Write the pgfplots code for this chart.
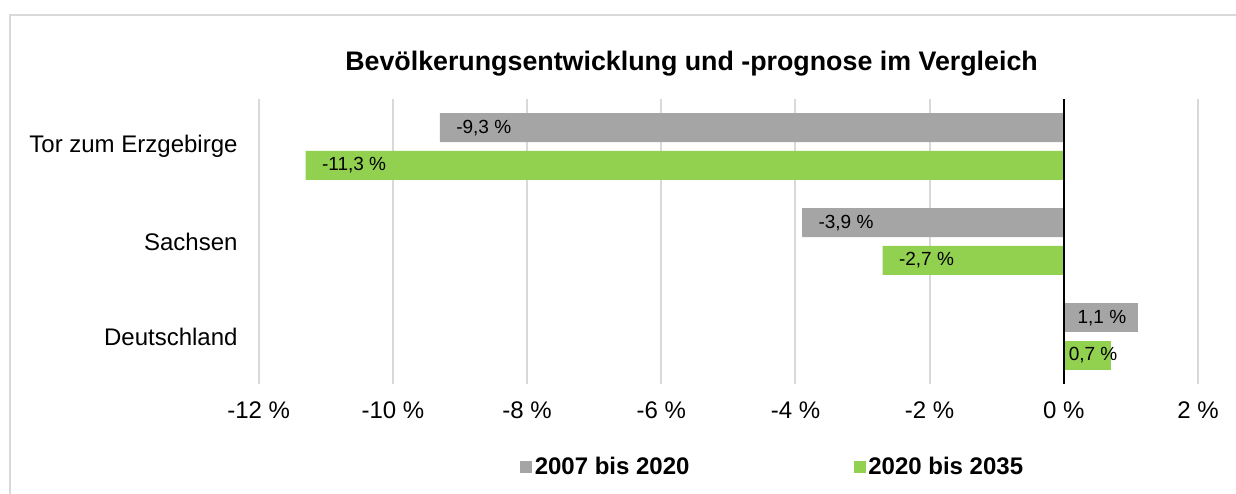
\documentclass[border=0pt]{standalone}
\usepackage{fontspec}
\setmainfont{Liberation Sans}
\usepackage{pgfplots}
\pgfplotsset{compat=1.18}
\definecolor{cgrey}{HTML}{A5A5A5}
\definecolor{cgreen}{HTML}{92D050}
\definecolor{gridc}{HTML}{D9D9D9}
\begin{document}
\begin{tikzpicture}
\path[use as bounding box] (0,0) rectangle (618pt,246.5pt);
\clip (0,0) rectangle (618pt,246.5pt);
\draw[gridc, line width=1pt] (5pt,-20pt) -- (5pt,239pt) -- (640pt,239pt);
\node[font=\bfseries\fontsize{13.4}{16}\selectfont, anchor=base] at (345.75pt,211pt) {Bevölkerungsentwicklung und -prognose im Vergleich};
\begin{axis}[
  at={(129.35pt,54.5pt)}, anchor=south west,
  scale only axis, width=469.65pt, height=142.5pt,
  xbar, bar width=14.5pt,
  xmin=-12, xmax=2, ymin=-0.5, ymax=2.5,
  xtick={-12,-10,-8,-6,-4,-2,0,2},
  xticklabels={-12 \%,-10 \%,-8 \%,-6 \%,-4 \%,-2 \%,0 \%,2 \%},
  ytick={0,1,2},
  yticklabels={Deutschland,Sachsen,Tor zum Erzgebirge},
  axis line style={draw=none}, major tick style={draw=none},
  xmajorgrids, grid style={gridc, line width=1pt},
  tick label style={font=\fontsize{12}{14}\selectfont},
  xticklabel style={yshift=-5.5pt},
  yticklabel style={xshift=-2.8pt},
  point meta=explicit symbolic,
  nodes near coords,
  every node near coord/.append style={font=\fontsize{9.5}{11}\selectfont, inner sep=0pt, text=black},
  legend columns=2,
  legend style={at={(0.5475,-0.291)}, anchor=center, draw=none,
    font=\bfseries\fontsize{12}{14}\selectfont,
    nodes={inner sep=1.2pt},
    /tikz/every even column/.append style={column sep=81pt}},
  legend image code/.code={\fill[#1] (0pt,-3pt) rectangle (6pt,3pt);},
]
\addplot[fill=cgrey, draw=none, bar shift=9.4pt,
  every node near coord/.append style={anchor=west, xshift=8pt}]
  coordinates {(-9.3,2) [-9,3~\%] (-3.9,1) [-3,9~\%]};
\addlegendentry{2007 bis 2020}
\addplot[fill=cgrey, draw=none, bar shift=9.4pt, forget plot,
  every node near coord/.append style={anchor=east, xshift=-5.5pt}]
  coordinates {(1.1,0) [1,1~\%]};
\addplot[fill=cgreen, draw=none, bar shift=-9.4pt,
  every node near coord/.append style={anchor=west, xshift=8pt}]
  coordinates {(-11.3,2) [-11,3~\%] (-2.7,1) [-2,7~\%]};
\addlegendentry{2020 bis 2035}
\addplot[fill=cgreen, draw=none, bar shift=-9.4pt, forget plot,
  every node near coord/.append style={anchor=east, xshift=3.5pt}]
  coordinates {(0.7,0) [0,7~\%]};
\draw[black, line width=1pt] (axis cs:0,-0.5) -- (axis cs:0,2.5);
\end{axis}
\end{tikzpicture}
\end{document}
